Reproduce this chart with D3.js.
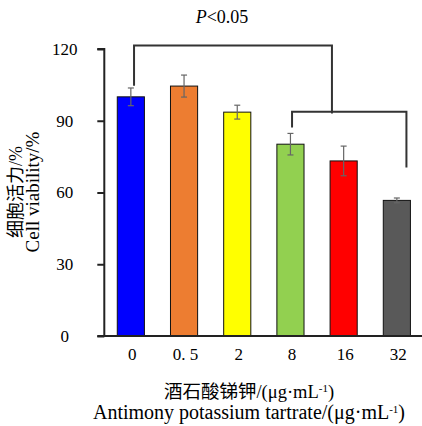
<!DOCTYPE html>
<html lang="zh">
<head>
<meta charset="utf-8">
<script src="https://d3js.org/d3.v7.min.js"></script>
<style>
  body { margin: 0; background: #fff; }
  text { font-family: "Liberation Serif", "Noto Sans CJK SC", serif; fill: #000; }
</style>
</head>
<body>
<script>
// data
const doses = ["0", "0. 5", "2", "8", "16", "32"];
const viability = [100, 104.5, 93.6, 80.2, 73.2, 56.7];
const errors = [3.7, 4.6, 2.9, 4.5, 6.2, 1.0];
const barColors = ["#0000ff", "#ed7d31", "#ffff00", "#92d050", "#ff0000", "#595959"];
const yTicks = [0, 30, 60, 90, 120];

// significance brackets (x in group index, y in % units)
const brFrom = [0.06, 3.03];
const brTo = [3.78, 5.18];
const brTop = [121.5, 93.8];
const brLeftEnd = [104.6, 87.2];
const brRightEnd = [93, 70.5];

const W = 422, H = 426;
const svg = d3.select("body").append("svg")
  .attr("width", W).attr("height", H);

const x0 = 104.3;
const x = d3.scaleBand()
  .domain(doses)
  .range([x0, 423.4])
  .paddingInner(0.49)
  .paddingOuter(0.244);
const y = d3.scaleLinear().domain([0, 120]).range([336, 49]);
// group index -> pixel (band centre)
const xi = d3.scaleLinear()
  .domain([0, 1])
  .range([x(doses[0]) + x.bandwidth() / 2, x(doses[1]) + x.bandwidth() / 2]);

// bars
svg.selectAll("rect.bar")
  .data(viability)
  .enter().append("rect")
  .attr("class", "bar")
  .attr("x", (d, i) => x(doses[i]))
  .attr("width", x.bandwidth())
  .attr("y", d => y(d))
  .attr("height", d => y(0) - y(d))
  .attr("fill", (d, i) => barColors[i])
  .attr("stroke", "#111")
  .attr("stroke-width", 1);

// error bars
const eb = svg.selectAll("g.err")
  .data(viability)
  .enter().append("g")
  .attr("class", "err")
  .attr("stroke", "#666")
  .attr("stroke-width", 1.2);
eb.append("line")
  .attr("x1", (d, i) => x(doses[i]) + x.bandwidth() / 2)
  .attr("x2", (d, i) => x(doses[i]) + x.bandwidth() / 2)
  .attr("y1", (d, i) => y(d + errors[i]))
  .attr("y2", (d, i) => y(d - errors[i]));
[1, -1].forEach(s => {
  eb.append("line")
    .attr("x1", (d, i) => x(doses[i]) + x.bandwidth() / 2 - 3)
    .attr("x2", (d, i) => x(doses[i]) + x.bandwidth() / 2 + 3)
    .attr("y1", (d, i) => y(d + s * errors[i]))
    .attr("y2", (d, i) => y(d + s * errors[i]));
});

// y axis
const yAxis = svg.append("g")
  .attr("transform", `translate(${x0},0)`)
  .call(d3.axisLeft(y).tickValues(yTicks).tickSize(7).tickFormat(d => d));
yAxis.select(".domain").attr("stroke", "#222").attr("stroke-width", 2)
  .attr("d", `M-7,${y(120)}H0V${y(0)}`);
yAxis.selectAll(".tick line").attr("stroke", "#222").attr("stroke-width", 2);
yAxis.selectAll(".tick text")
  .attr("x", -39.5).attr("text-anchor", "middle")
  .style("font-size", "17px")
  .style("font-family", "Liberation Serif");

// x axis (line only, no ticks)
svg.append("line")
  .attr("x1", x0 - 7).attr("x2", x.range()[1])
  .attr("y1", y(0)).attr("y2", y(0))
  .attr("stroke", "#222").attr("stroke-width", 2);
svg.selectAll("text.xt")
  .data(doses)
  .enter().append("text")
  .attr("class", "xt")
  .attr("x", d => x(d) + x.bandwidth() / 2 + 1.5)
  .attr("y", 360)
  .attr("text-anchor", "middle")
  .style("font-size", "17px")
  .text(d => d);

// brackets
svg.selectAll("path.br")
  .data(brFrom)
  .enter().append("path")
  .attr("class", "br")
  .attr("fill", "none")
  .attr("stroke", "#333")
  .attr("stroke-width", 2)
  .attr("d", (d, i) => `M${xi(d)},${y(brLeftEnd[i])}V${y(brTop[i])}H${xi(brTo[i])}V${y(brRightEnd[i])}`);

// P label
const pt = svg.append("text")
  .attr("x", 222).attr("y", 23)
  .attr("text-anchor", "middle")
  .style("font-size", "18px");
pt.append("tspan").style("font-style", "italic").text("P");
pt.append("tspan").text("<0.05");

// axis titles
function unitTitle(sel, prefix) {
  sel.append("tspan").text(prefix + "/(μg·mL");
  sel.append("tspan").attr("dy", -6).style("font-size", "11px").text("-1");
  sel.append("tspan").attr("dy", 6).text(")");
}
const xt1 = svg.append("text")
  .attr("x", 249).attr("y", 398)
  .attr("text-anchor", "middle")
  .style("font-size", "18.5px");
unitTitle(xt1, "酒石酸锑钾");
const xt2 = svg.append("text")
  .attr("x", 249).attr("y", 419)
  .attr("text-anchor", "middle")
  .style("font-size", "20px");
unitTitle(xt2, "Antimony potassium tartrate");

svg.append("text")
  .attr("transform", "translate(22,192) rotate(-90)")
  .attr("text-anchor", "middle")
  .style("font-size", "18px")
  .text("细胞活力/%");
svg.append("text")
  .attr("transform", "translate(39,192) rotate(-90)")
  .attr("text-anchor", "middle")
  .style("font-size", "19px")
  .text("Cell viability/%");
</script>
</body>
</html>
